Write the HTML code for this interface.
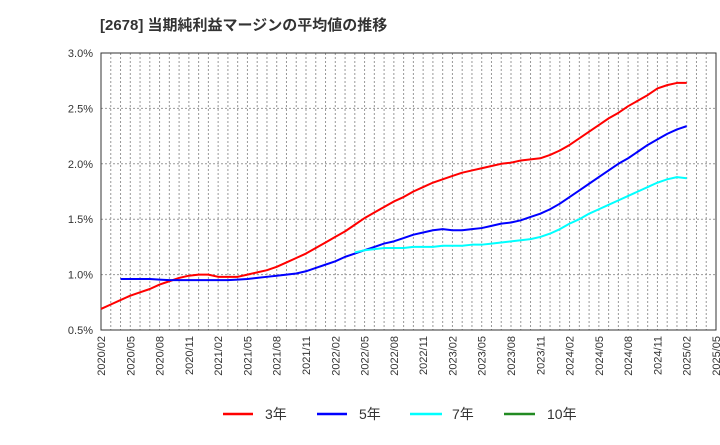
<!DOCTYPE html>
<html><head><meta charset="utf-8"><style>
body{margin:0;background:#fff;font-family:"Liberation Sans","Noto Sans CJK JP",sans-serif;}
</style></head><body>
<svg id="chart" width="720" height="440" xmlns="http://www.w3.org/2000/svg">
<text x="100" y="30" font-size="15" font-weight="bold" fill="#333" font-family="Liberation Sans, Noto Sans CJK JP, sans-serif">[2678]  当期純利益マージンの平均値の推移</text>
<g id="grid"></g><g id="axes"></g><g id="series"></g>
<g font-size="14" fill="#333" font-family="Liberation Sans, Noto Sans CJK JP, sans-serif">
<line x1="223" y1="414" x2="253" y2="414" stroke="#ff0000" stroke-width="2.5"/>
<text x="265" y="419">3年</text>
<line x1="317" y1="414" x2="347" y2="414" stroke="#0000ff" stroke-width="2.5"/>
<text x="359" y="419">5年</text>
<line x1="410" y1="414" x2="442" y2="414" stroke="#00ffff" stroke-width="2.5"/>
<text x="452" y="419">7年</text>
<line x1="504" y1="414" x2="535" y2="414" stroke="#228b22" stroke-width="2.5"/>
<text x="547" y="419">10年</text>
</g>
</svg>
<script>
const yTicks=[0.5,1.0,1.5,2.0,2.5,3.0];
const xTickLabels=["2020/02","2020/05","2020/08","2020/11","2021/02","2021/05","2021/08","2021/11","2022/02","2022/05","2022/08","2022/11","2023/02","2023/05","2023/08","2023/11","2024/02","2024/05","2024/08","2024/11","2025/02","2025/05"];
const s3Start=0;
const s3=[0.69,0.73,0.77,0.81,0.84,0.87,0.91,0.94,0.97,0.99,1.00,1.00,0.98,0.98,0.98,1.00,1.02,1.04,1.07,1.11,1.15,1.19,1.24,1.29,1.34,1.39,1.45,1.51,1.56,1.61,1.66,1.70,1.75,1.79,1.83,1.86,1.89,1.92,1.94,1.96,1.98,2.00,2.01,2.03,2.04,2.05,2.08,2.12,2.17,2.23,2.29,2.35,2.41,2.46,2.52,2.57,2.62,2.68,2.71,2.73,2.73];
const s5Start=2;
const s5=[0.96,0.96,0.96,0.96,0.955,0.95,0.95,0.95,0.95,0.95,0.95,0.95,0.955,0.96,0.97,0.98,0.99,1.00,1.01,1.03,1.06,1.09,1.12,1.16,1.19,1.22,1.25,1.28,1.30,1.33,1.36,1.38,1.40,1.41,1.40,1.40,1.41,1.42,1.44,1.46,1.47,1.49,1.52,1.55,1.59,1.64,1.70,1.76,1.82,1.88,1.94,2.00,2.05,2.11,2.17,2.22,2.27,2.31,2.34];
const s7Start=26;
const s7=[1.20,1.22,1.23,1.24,1.24,1.24,1.25,1.25,1.25,1.26,1.26,1.26,1.27,1.27,1.28,1.29,1.30,1.31,1.32,1.34,1.37,1.41,1.46,1.50,1.55,1.59,1.63,1.67,1.71,1.75,1.79,1.83,1.86,1.88,1.87];
const s10=[];
const NS="http://www.w3.org/2000/svg";
const L=101,R=716,T=53,B=330,months=63;
const xs=m=>L+(R-L)*m/months;
const ys=v=>B-(v-0.5)/2.5*(B-T);
function mk(t,a,p){const e=document.createElementNS(NS,t);for(const k in a)e.setAttribute(k,a[k]);p.appendChild(e);return e;}
const grid=document.getElementById('grid'),axes=document.getElementById('axes'),ser=document.getElementById('series');
for(let m=1;m<months;m++){const l=mk('line',{x1:xs(m),x2:xs(m),y1:T,y2:B,stroke:'#999','stroke-dasharray':'2,2','stroke-width':1},grid);

}
yTicks.forEach(v=>{const y=ys(v);
const g=mk('line',{x1:L,x2:R,y1:y,y2:y,stroke:'#999','stroke-dasharray':'2,2','stroke-width':1},grid);


const t=mk('text',{x:L-8,y:y+4,'text-anchor':'end','font-size':11,fill:'#333'},axes);t.textContent=v.toFixed(1)+'%';

});
xTickLabels.forEach((s,i)=>{const x=xs(i*3);
const t=mk('text',{x:x+4,y:B+6,'text-anchor':'end','font-size':11,fill:'#333',transform:`rotate(-90 ${x+4} ${B+6})`},axes);t.textContent=s;

});
const fr=mk('rect',{x:L,y:T,width:R-L,height:B-T,fill:'none',stroke:'#333','stroke-width':1},axes);


function draw(arr,start,color,name){if(!arr.length)return;
const p=mk('polyline',{points:arr.map((v,i)=>xs(start+i)+','+ys(v)).join(' '),fill:'none',stroke:color,'stroke-width':2,'stroke-linejoin':'round'},ser);

}
draw(s3,s3Start,'#ff0000','line-3yr');
draw(s5,s5Start,'#0000ff','line-5yr');
draw(s7,s7Start,'#00ffff','line-7yr');
draw(s10,0,'#228b22','line-10yr');
</script>
</body></html>
